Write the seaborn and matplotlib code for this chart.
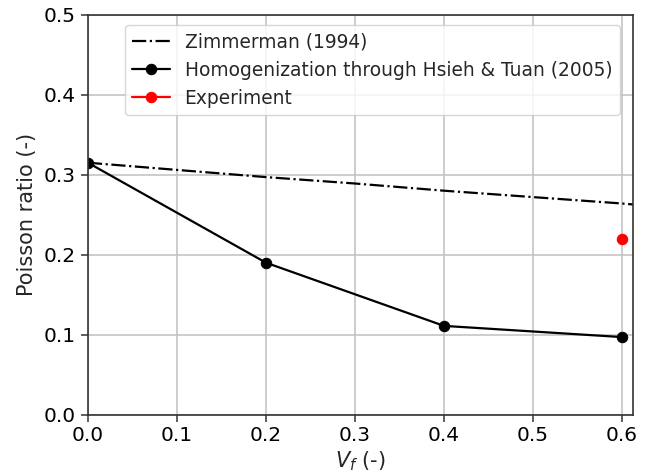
import matplotlib
matplotlib.use("Agg")
import matplotlib.pyplot as plt
import seaborn as sns
import pandas as pd

# Data
zim_x = [0.0, 0.1, 0.2, 0.3, 0.4, 0.5, 0.6, 0.62]
zim_y = [0.315, 0.306, 0.297, 0.289, 0.280, 0.272, 0.264, 0.262]
hom_x = [0.0, 0.2, 0.4, 0.6]
hom_y = [0.315, 0.190, 0.111, 0.097]
exp_x = [0.6]
exp_y = [0.220]

sns.set_style("ticks")
plt.rcParams['font.family'] = ['DejaVu Sans']

fig, ax = plt.subplots(figsize=(6.51, 4.75), dpi=100)

sns.lineplot(x=zim_x, y=zim_y, ax=ax, color="black", linestyle="-.", lw=1.6,
             label="Zimmerman (1994)", estimator=None, sort=False)
sns.lineplot(x=hom_x, y=hom_y, ax=ax, color="black", marker="o", markersize=7.5,
             markeredgecolor="black", lw=1.6,
             label="Homogenization through Hsieh & Tuan (2005)", estimator=None, sort=False)
sns.lineplot(x=exp_x, y=exp_y, ax=ax, color="red", marker="o", markersize=7.5,
             markeredgecolor="red", lw=1.6, label="Experiment", estimator=None)

ax.set_xlim(0, 0.612)
ax.set_ylim(0, 0.5)
ax.set_xticks([0.0, 0.1, 0.2, 0.3, 0.4, 0.5, 0.6])
ax.set_yticks([0.0, 0.1, 0.2, 0.3, 0.4, 0.5])
ax.grid(True, color="#c0c0c0", lw=1.1)
ax.tick_params(labelsize=14.5, length=5, width=1.1, direction="out", colors="#333333",
               labelcolor="black")
for s in ax.spines.values():
    s.set_linewidth(1.2)
    s.set_color("#333333")
ax.set_xlabel(r"$V_f$ (-)", fontsize=15, labelpad=3)
ax.set_ylabel("Poisson ratio (-)", fontsize=15, labelpad=5)

leg = ax.legend(loc="upper right", bbox_to_anchor=(0.993, 0.998), fontsize=13.4,
                handlelength=2.0, framealpha=0.8)

fig.subplots_adjust(left=0.135, right=0.972, top=0.969, bottom=0.127)
fig.savefig("out.png", dpi=100)
